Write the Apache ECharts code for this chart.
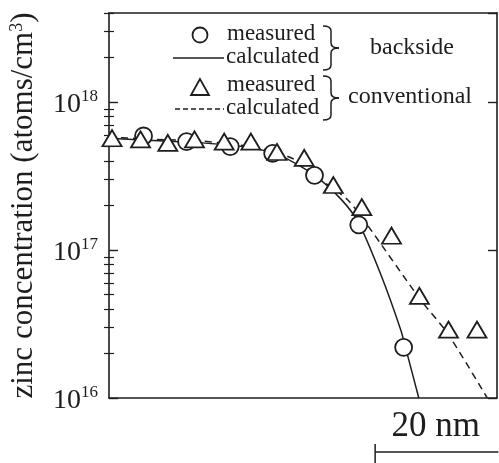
<!DOCTYPE html>
<html>
<head>
<meta charset="utf-8">
<script src="https://cdn.jsdelivr.net/npm/echarts@6/dist/echarts.min.js"></script>
<style>
  html, body { margin: 0; padding: 0; background: #fff; }
  #chart { width: 499px; height: 463px; }
</style>
</head>
<body>
<div id="chart"></div>
<script>
// Zinc depth profiles: depth in nm, concentration in atoms/cm^3
const backsideMeasuredDepth = [5.7, 12.8, 20.0, 27.0, 33.9, 41.2, 48.6];
const backsideMeasuredConc  = [5.9e17, 5.4e17, 5.0e17, 4.5e17, 3.2e17, 1.48e17, 2.2e16];

const backsideCalcDepth = [0, 7.2, 15.4, 23.6, 28.5, 33.9, 38.3, 41.2, 44.85, 48.1, 49.1, 51.1];
const backsideCalcConc  = [5.7e17, 5.5e17, 5.3e17, 4.9e17, 4.3e17, 3.2e17, 2.2e17, 1.52e17, 6.8e16, 2.9e16, 2.05e16, 1.0e16];

const conventionalMeasuredDepth = [0.5, 5.2, 9.7, 14.1, 19.0, 23.4, 27.7, 32.2, 37.0, 41.7, 46.6, 51.2, 56.0, 60.7];
const conventionalMeasuredConc  = [5.7e17, 5.6e17, 5.3e17, 5.6e17, 5.4e17, 5.4e17, 4.6e17, 4.2e17, 2.75e17, 1.95e17, 1.25e17, 4.9e16, 2.9e16, 2.9e16];

const conventionalCalcDepth = [0, 7.2, 15.4, 24.7, 30.6, 35.0, 39.4, 42.6, 51.4, 55.8, 62.4];
const conventionalCalcConc  = [5.8e17, 5.6e17, 5.45e17, 4.9e17, 4.1e17, 2.97e17, 2.18e17, 1.48e17, 4.6e16, 2.75e16, 1.0e16];

// axis ranges
const depthMax = 64;
const concMin = 1e16;
const concMax = 4e18;
const decades = [16, 17, 18];
const minorMantissas = [2, 3, 4, 5, 6, 7, 8, 9];

// scale bar on the depth axis
const scaleBarStart = 43.9;
const scaleBarLength = 20;
const scaleBarLabel = '20 nm';

// legend texts
const legendMeasured = 'measured';
const legendCalculated = 'calculated';
const groupBackside = 'backside';
const groupConventional = 'conventional';
const yTitle = 'zinc concentration (atoms/cm{sup|3})';

const INK = '#1e1e1e';
const SERIF = '"Liberation Serif", "DejaVu Serif", serif';

const zip = (xs, ys) => xs.map((x, i) => [x, ys[i]]);

// minor tick positions in log10 units
const minorLogs = [];
decades.forEach(d => minorMantissas.forEach(m => {
  const v = Math.log10(m) + d;
  if (v <= Math.log10(concMax)) minorLogs.push(v);
}));

const chart = echarts.init(document.getElementById('chart'), null, { renderer: 'canvas' });

const baseX = {
  type: 'value', min: 0, max: depthMax,
  axisLine: { show: true, lineStyle: { color: INK, width: 1.6 } },
  axisTick: { show: false }, axisLabel: { show: false }, splitLine: { show: false }
};

const majorY = (pos, labels) => ({
  type: 'log', logBase: 10, min: concMin, max: concMax, position: pos,
  axisLine: { show: true, onZero: false, lineStyle: { color: INK, width: 1.6 } },
  axisTick: { show: true, inside: true, length: 9, lineStyle: { color: INK, width: 1.4 } },
  minorTick: { show: false },
  splitLine: { show: false },
  axisLabel: labels ? {
    show: true, margin: 11, showMaxLabel: false,
    formatter: v => '{b|10}{s|' + Math.round(Math.log10(v)) + '}',
    rich: {
      b: { fontFamily: SERIF, fontSize: 28, lineHeight: 28, color: INK, padding: [6, 0, 0, 0] },
      s: { fontFamily: SERIF, fontSize: 17, lineHeight: 17, color: INK, verticalAlign: 'top' }
    }
  } : { show: false },
  name: labels ? yTitle : '',
  nameLocation: 'middle', nameRotate: 90, nameGap: 70,
  nameTextStyle: {
    fontFamily: SERIF, fontSize: 31, color: INK,
    rich: { sup: { fontFamily: SERIF, fontSize: 18, color: INK, verticalAlign: 'top' } }
  }
});

const minorY = pos => ({
  type: 'value', min: 16, max: Math.log10(concMax), position: pos,
  axisLine: { show: false },
  axisTick: { show: true, inside: true, length: 5, customValues: minorLogs, lineStyle: { color: INK, width: 1.2 } },
  axisLabel: { show: false }, splitLine: { show: false }
});

chart.setOption({
  animation: false,
  backgroundColor: '#fff',
  grid: { left: 106, right: 2, top: 13, bottom: 65, containLabel: false },
  xAxis: [
    Object.assign({}, baseX, { position: 'bottom' }),
    Object.assign({}, baseX, { position: 'top' })
  ],
  yAxis: [majorY('left', true), majorY('right', false), minorY('left'), minorY('right')],
  series: [
    {
      name: 'backside calculated', type: 'line', data: zip(backsideCalcDepth, backsideCalcConc),
      showSymbol: false, smooth: 0.25, z: 2,
      lineStyle: { color: INK, width: 1.5 }
    },
    {
      name: 'conventional calculated', type: 'line', data: zip(conventionalCalcDepth, conventionalCalcConc),
      showSymbol: false, smooth: 0.25, z: 2,
      lineStyle: { color: INK, width: 1.5, type: [7, 5] }
    },
    {
      name: 'backside measured', type: 'scatter', data: zip(backsideMeasuredDepth, backsideMeasuredConc),
      symbol: 'circle', symbolSize: 17, z: 3,
      itemStyle: { color: '#fff', borderColor: INK, borderWidth: 1.8, opacity: 1 }
    },
    {
      name: 'conventional measured', type: 'scatter', data: zip(conventionalMeasuredDepth, conventionalMeasuredConc),
      symbol: 'triangle', symbolSize: [19, 16], z: 4,
      itemStyle: { color: '#fff', borderColor: INK, borderWidth: 1.8, opacity: 1 }
    }
  ]
});

// legend block with group braces, and the depth scale bar
const textEl = (text, x, y, size) => ({
  type: 'text', z: 100,
  style: { text, x, y, font: size + 'px ' + SERIF, fill: INK,
           align: 'left', verticalAlign: 'middle', textAlign: 'left', textVerticalAlign: 'middle' }
});
const strokeStyle = { stroke: INK, lineWidth: 1.5, fill: 'none' };
// right-pointing curly brace built from quadratic curves and straight pieces
const brace = (x0, y0, y1, w) => {
  const xm = x0 + w / 2, xt = x0 + w, mid = (y0 + y1) / 2, r = 5;
  const curve = (x1, y1, cx, cy, x2, y2) => ({
    type: 'bezierCurve', z: 100, shape: { x1, y1, cpx1: cx, cpy1: cy, x2, y2 }, style: strokeStyle
  });
  const seg = (x1, y1, x2, y2) => ({ type: 'line', z: 100, shape: { x1, y1, x2, y2 }, style: strokeStyle });
  return [
    curve(x0, y0, xm, y0, xm, y0 + r),
    seg(xm, y0 + r, xm, mid - r),
    curve(xm, mid - r, xm, mid, xt, mid),
    curve(xt, mid, xm, mid, xm, mid + r),
    seg(xm, mid + r, xm, y1 - r),
    curve(xm, y1 - r, xm, y1, x0, y1)
  ];
};

const bx0 = chart.convertToPixel({ xAxisIndex: 0 }, scaleBarStart);
const bx1 = chart.convertToPixel({ xAxisIndex: 0 }, scaleBarStart + scaleBarLength);

chart.setOption({
  graphic: [
    { type: 'circle', z: 100, shape: { cx: 200, cy: 35, r: 7.5 }, style: { fill: '#fff', stroke: INK, lineWidth: 1.8 } },
    { type: 'line', z: 100, shape: { x1: 173, y1: 58, x2: 224, y2: 58 }, style: { stroke: INK, lineWidth: 1.5 } },
    { type: 'polygon', z: 100, shape: { points: [[200, 79], [191, 95], [209, 95]] }, style: { fill: '#fff', stroke: INK, lineWidth: 1.8 } },
    { type: 'line', z: 100, shape: { x1: 175, y1: 109, x2: 224, y2: 109 }, style: { stroke: INK, lineWidth: 1.5, lineDash: [5, 3] } },
    textEl(legendMeasured, 227, 34, 23),
    textEl(legendCalculated, 226, 57, 23),
    textEl(legendMeasured, 227, 85, 23),
    textEl(legendCalculated, 226, 108, 23),
    ...brace(323, 26, 70, 16),
    ...brace(323, 76, 120, 16),
    textEl(groupBackside, 370, 48, 24),
    textEl(groupConventional, 348, 97, 24),
    { type: 'line', z: 100, shape: { x1: bx0, y1: 452, x2: bx1 + 2, y2: 452 }, style: { stroke: INK, lineWidth: 1.5 } },
    { type: 'line', z: 100, shape: { x1: bx0, y1: 444, x2: bx0, y2: 463 }, style: { stroke: INK, lineWidth: 1.5 } },
    {
      type: 'text', z: 100,
      style: { text: scaleBarLabel, x: (bx0 + bx1) / 2, y: 427, font: '35px ' + SERIF, fill: INK,
               align: 'center', verticalAlign: 'middle', textAlign: 'center', textVerticalAlign: 'middle' }
    }
  ]
});
</script>
</body>
</html>
